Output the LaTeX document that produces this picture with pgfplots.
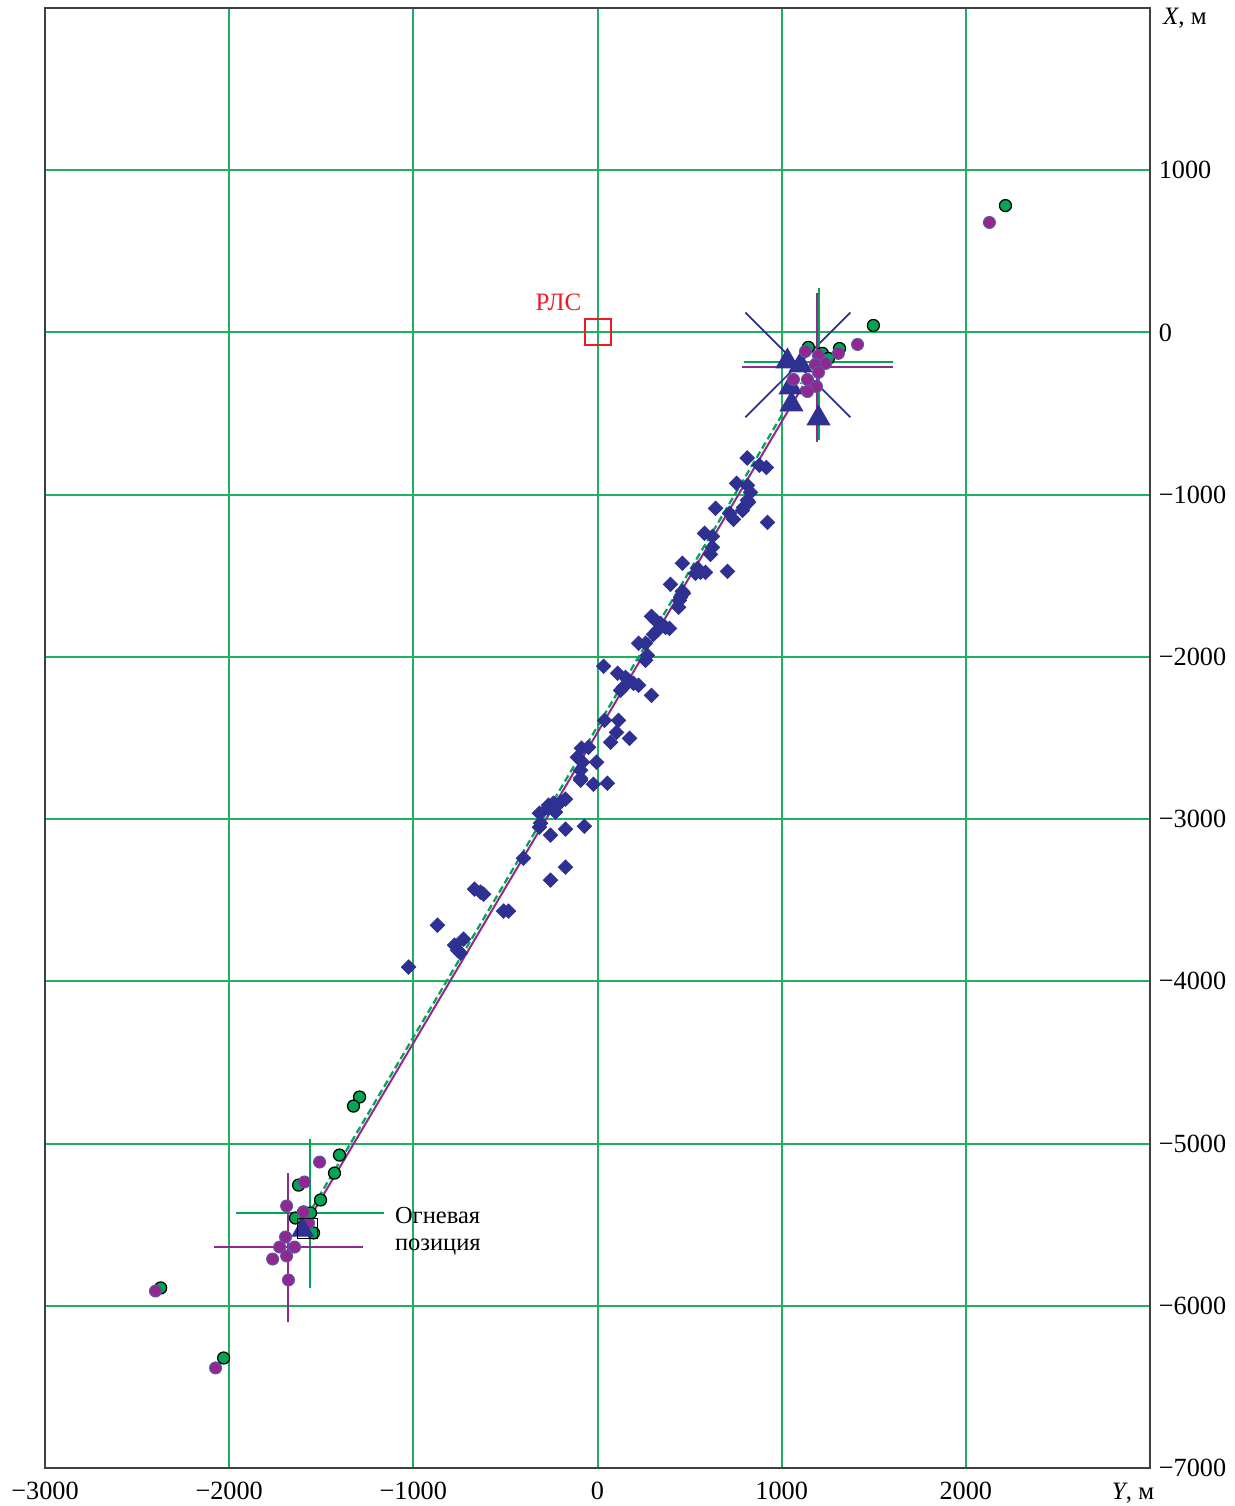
\documentclass[border=0pt]{standalone}
\usepackage{fontspec}
\setmainfont{Liberation Serif}
\usepackage{pgfplots}
\pgfplotsset{compat=1.18}
\definecolor{gridg}{RGB}{30,175,95}
\definecolor{dotg}{RGB}{0,166,81}
\definecolor{mag}{RGB}{146,39,143}
\definecolor{navy}{RGB}{46,49,146}
\definecolor{rlsred}{RGB}{237,28,36}
\begin{document}
\begin{tikzpicture}
\useasboundingbox (-18pt,-15.2pt) rectangle (475.6pt,587.2pt);
\begin{axis}[at={(0pt,0pt)}, anchor=south west, scale only axis,
 width=442pt, height=584pt,
 xmin=-3000, xmax=3000, ymin=-7000, ymax=2000,
 clip=false,
 xtick={-3000,-2000,-1000,0,1000,2000},
 ytick={-7000,-6000,-5000,-4000,-3000,-2000,-1000,0,1000},
 xticklabels={−3000,−2000,−1000,0,1000,2000},
 yticklabels={−7000,−6000,−5000,−4000,−3000,−2000,−1000,0,1000},
 yticklabel pos=right,
 major tick length=0pt,
 xmajorgrids=false, ymajorgrids=false,
 axis line style={draw=black!75, line width=0.8pt},
 tick label style={font=\fontsize{10.5}{12}\selectfont},
 xticklabel style={yshift=-2pt},
 axis on top,
]
% grid
\pgfplotsinvokeforeach{-2000,-1000,0,1000,2000}{
 \addplot[draw=gridg, line width=0.8pt, forget plot] coordinates {(#1,-7000) (#1,2000)};
}
\pgfplotsinvokeforeach{-6000,-5000,-4000,-3000,-2000,-1000,0,1000}{
 \addplot[draw=gridg, line width=0.8pt, forget plot] coordinates {(-3000,#1) (3000,#1)};
}
% lines fire -> target
\addplot[dotg, line width=0.9pt, dash pattern=on 2.8pt off 1.5pt] coordinates {(-1605,-5505) (1105,-310)};
\addplot[mag, line width=0.8pt] coordinates {(-1600,-5530) (1115,-330)};
% crosses at target
\addplot[navy, line width=0.7pt] coordinates {(803,-523) (1373,123)};
\addplot[navy, line width=0.7pt] coordinates {(803,123) (1373,-523)};
\addplot[dotg, line width=0.8pt] coordinates {(793,-185) (1607,-185)};
\addplot[dotg, line width=0.8pt] coordinates {(1200,271) (1200,-665)};
\addplot[mag, line width=0.8pt] coordinates {(787,-216) (1602,-216)};
\addplot[mag, line width=0.8pt] coordinates {(1194,246) (1194,-678)};
% crosses at fire position
\addplot[dotg, line width=0.8pt] coordinates {(-1965,-5428) (-1162,-5428)};
\addplot[dotg, line width=0.8pt] coordinates {(-1563,-4973) (-1563,-5890)};
\addplot[mag, line width=0.8pt] coordinates {(-2085,-5638) (-1276,-5638)};
\addplot[mag, line width=0.8pt] coordinates {(-1683,-5182) (-1683,-6100)};
% diamonds
\addplot[only marks, mark=square*, mark size=2.0pt, mark options={rotate=45, fill=navy, draw=navy}] coordinates {
(813,-774) (879,-819) (917,-832) (755,-930) (814,-943) (831,-986) (814,-1035) (820,-1047)
(793,-1078) (787,-1097) (641,-1084) (717,-1115) (738,-1152) (923,-1171) (581,-1238) (624,-1257)
(624,-1325) (613,-1368) (461,-1423) (543,-1454) (559,-1479) (586,-1479) (532,-1485) (706,-1473)
(396,-1553) (461,-1596) (467,-1608) (451,-1633) (445,-1651) (440,-1694) (293,-1750) (315,-1775)
(342,-1793) (369,-1818) (391,-1824) (326,-1836) (304,-1861) (223,-1916) (261,-1916) (271,-1990)
(261,-2021) (33,-2058) (109,-2101) (152,-2126) (168,-2144) (195,-2163) (223,-2175) (141,-2187)
(125,-2206) (293,-2237)
(38,-2391) (114,-2391) (103,-2465) (174,-2502) (71,-2526) (-49,-2557) (-87,-2563) (-109,-2619)
(-81,-2649) (-5,-2649) (-92,-2699) (-92,-2748)
(-92,-2760) (-22,-2785) (54,-2779) (-266,-2914) (-239,-2902) (-201,-2896) (-174,-2877) (-271,-2933)
(-228,-2957) (-315,-2964) (-309,-3025) (-315,-3050) (-255,-3099) (-174,-3062) (-71,-3044) (-402,-3241)
(-174,-3296) (-255,-3376) (-668,-3432) (-635,-3450) (-619,-3463) (-510,-3567) (-483,-3567) (-869,-3654)
(-727,-3740) (-776,-3777) (-760,-3808) (-744,-3826) (-1026,-3912)
};
% triangles at target
\addplot[only marks, mark=triangle*, mark size=5.2pt, mark options={fill=navy, draw=navy}] coordinates {
(1102,-203) (1031,-179) (1048,-339) (1053,-444) (1200,-530)
};
% green dots
\addplot[only marks, mark=*, mark size=2.4pt, mark options={fill=dotg, draw=black, line width=0.5pt}] coordinates {
(2215,782) (1498,43) (1314,-99) (1145,-92) (1221,-129) (1254,-160)
(-2372,-5890) (-2030,-6322) (-1292,-4713) (-1325,-4769) (-1401,-5071) (-1428,-5182)
(-1623,-5256) (-1504,-5348) (-1596,-5422) (-1558,-5428) (-1640,-5459) (-1542,-5551)
};
% magenta dots
\addplot[only marks, mark=*, mark size=2.4pt, mark options={fill=mag, draw=navy!80, line width=0.4pt}] coordinates {
(2128,678) (1412,-74) (1129,-117) (1200,-142) (1308,-129) (1238,-191) (1183,-197) (1200,-246)
(1064,-290) (1140,-290) (1189,-333) (1140,-364)
(-2400,-5909) (-2074,-6383) (-1509,-5114) (-1591,-5237) (-1688,-5385) (-1596,-5422) (-1569,-5490)
(-1694,-5576) (-1726,-5638) (-1645,-5638) (-1688,-5693) (-1764,-5712) (-1678,-5841)
};
% fire position triangle and square
\addplot[only marks, mark=triangle*, mark size=4.8pt, mark options={fill=navy, draw=navy}] coordinates {(-1601,-5533)};
\addplot[only marks, mark=square, mark size=4pt, mark options={draw=black, line width=0.6pt}] coordinates {(-1574,-5524)};
% radar
\addplot[only marks, mark=square, mark size=5.2pt, mark options={draw=rlsred, line width=0.8pt}] coordinates {(0,0)};
\node[rlsred, font=\fontsize{10}{12}\selectfont] at (axis cs:-212,185) {РЛС};
\node[anchor=west, align=left, font=\fontsize{9.8}{10.8}\selectfont, inner sep=0pt] at (axis cs:-1102,-5542) {Огневая\\позиция};
\node[anchor=west, font=\fontsize{10}{12}\selectfont, inner sep=0pt] at ([xshift=5pt,yshift=-4pt]rel axis cs:1,1) {\textit{X}, м};
\node[font=\fontsize{10}{12}\selectfont, inner sep=0pt] at ([xshift=-6.8pt,yshift=-10.2pt]rel axis cs:1,0) {\textit{Y}, м};
\end{axis}
\end{tikzpicture}
\end{document}
